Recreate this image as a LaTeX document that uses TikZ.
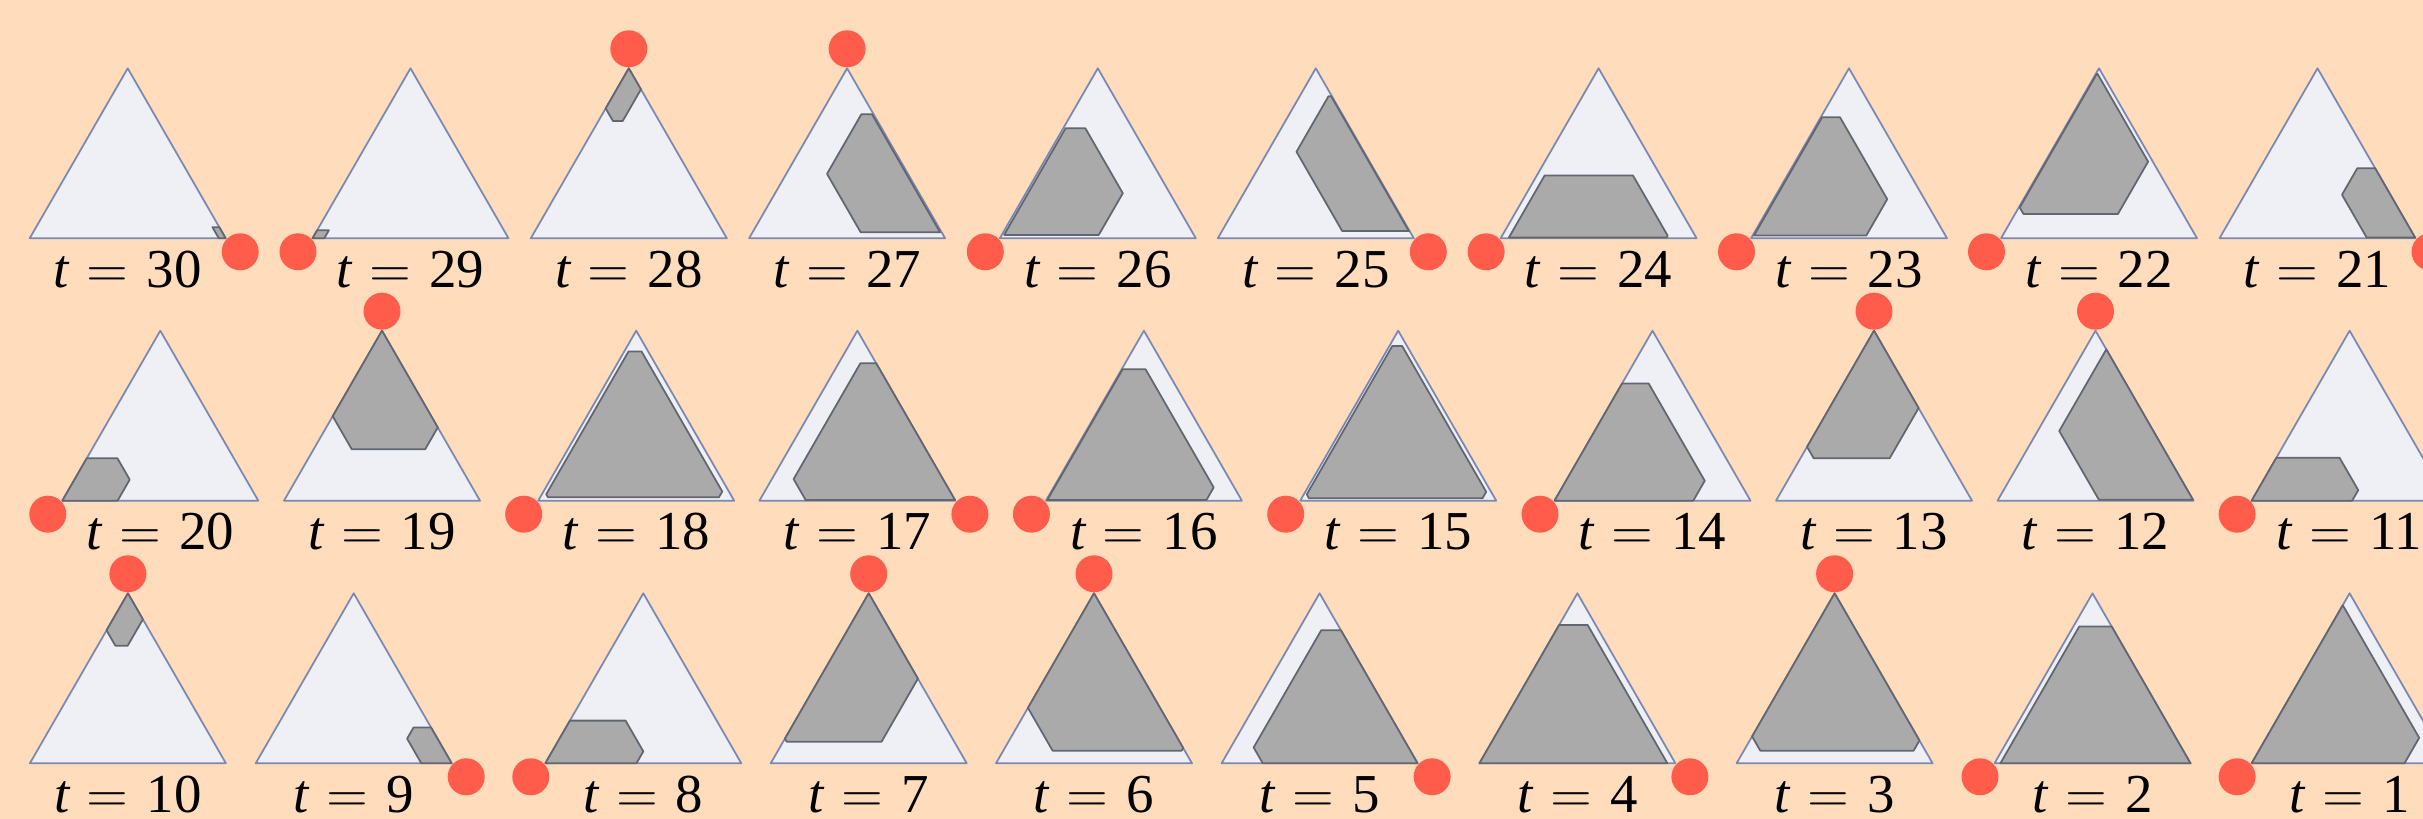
\documentclass[tikz,border=0pt]{standalone}
\usepackage{fix-cm}
\usepackage{fontspec}
\setmainfont{Liberation Serif}

\definecolor{peach}{RGB}{255,221,188}
\definecolor{trifill}{RGB}{238,240,246}
\definecolor{triedge}{RGB}{122,136,180}
\definecolor{regfill}{RGB}{170,170,171}
\definecolor{regedge}{RGB}{98,102,112}
\definecolor{dotred}{RGB}{255,92,76}

\tikzset{
    simplex/.style={fill=trifill,draw=triedge,line width=0.5pt},
    region/.style={fill=regfill,draw=regedge,line width=0.5pt},
    marker/.style={fill=dotred},
    steplabel/.style={font=\fontsize{15.6}{18}\selectfont,anchor=base,inner sep=0pt}
}

\newcommand{\steptext}[1]{\textit{t}\hspace{0.3em}$=$\hspace{0.33em}#1}

\begin{document}
\begin{tikzpicture}[x=0.01cm,y=-0.01cm,line cap=round,line join=round]

\fill[peach] (0,0) rectangle (2423,819);
\useasboundingbox (0,0) rectangle (2423,819);

% step / apex x / base y / marked corner / bounds of a, l, r
\foreach \tm/\cx/\by/\dv/\alo/\ahi/\llo/\lhi/\rlo/\rhi in {
    30/127.7/238.3/R/0/0.065/0/0.035/0.9/1,
    29/410.5/238.3/L/0/0.047/0.89/1/0/0.06,
    28/628.8/238.3/A/0.69/1/0/0.236/0/0.124,
    27/847.1/238.3/A/0.035/0.729/0.008/0.413/0.208/1,
    26/1097.8/238.3/L/0.02/0.647/0.24/1/0.012/0.495,
    25/1315.8/238.3/R/0.043/0.835/0.004/0.344/0.147/1,
    24/1598.6/238.3/L/0.005/0.369/0.14/1/0.04/0.845,
    23/1849/238.3/L/0.016/0.712/0.19/1/0.007/0.58,
    22/2099/238.3/L/0.143/0.967/0.024/0.814/0.005/0.525,
    21/2317.5/238.3/R/0.004/0.412/0/0.247/0.497/1,
    20/160.3/500.7/L/0/0.249/0.594/1/0/0.282,
    19/382/500.7/A/0.302/1/0/0.503/0/0.569,
    18/636.2/500.7/L/0.02/0.878/0.034/0.94/0.022/0.912,
    17/857.4/500.7/R/0.004/0.808/0/0.762/0.111/1,
    16/1143.9/500.7/L/0.004/0.773/0.105/1/0.005/0.817,
    15/1398.2/500.7/L/0.014/0.91/0.025/0.948/0.015/0.923,
    14/1652.5/500.7/L/0/0.69/0.175/1/0/0.708,
    13/1874/500.7/A/0.249/1/0/0.683/0/0.455,
    12/2095.5/500.7/A/0.005/1/0/0.48/0.11/1,
    11/2349.6/500.7/L/0/0.253/0.425/1/0/0.513,
    10/127.9/763.3/A/0.692/1/0/0.218/0/0.153,
    9/353.7/763.3/R/0/0.21/0/0.155/0.70/1,
    8/643.3/763.3/L/0/0.251/0.465/1/0/0.465,
    7/868.7/763.3/A/0.127/1/0/0.855/0/0.502,
    6/1094/763.3/A/0.0745/1/0/0.674/0/0.91,
    5/1319.6/763.3/R/0/0.782/0/0.79/0.117/1,
    4/1577.4/763.3/R/0/0.814/0.041/1/0/1,
    3/1834.6/763.3/A/0.0745/1/0/0.842/0/0.866,
    2/2092.5/763.3/L/0/0.804/0/1/0.03/1,
    1/2349.6/763.3/L/0/1/0.07/1/0/0.78} {
    \coordinate (A\tm) at (\cx,\by-170);
    \coordinate (L\tm) at (\cx-98,\by);
    \coordinate (R\tm) at (\cx+98,\by);
    \coordinate (dA\tm) at (\cx,\by-189.5);
    \coordinate (dL\tm) at (\cx-112.5,\by+13.5);
    \coordinate (dR\tm) at (\cx+112.5,\by+13.5);
    \draw[simplex] (A\tm) -- (L\tm) -- (R\tm) -- cycle;
    % tight bounds, then the six corners of the region
    \pgfmathsetmacro\aL{max(\alo,1-\lhi-\rhi)}
    \pgfmathsetmacro\aH{min(\ahi,1-\llo-\rlo)}
    \pgfmathsetmacro\lL{max(\llo,1-\ahi-\rhi)}
    \pgfmathsetmacro\lH{min(\lhi,1-\alo-\rlo)}
    \pgfmathsetmacro\rL{max(\rlo,1-\ahi-\lhi)}
    \pgfmathsetmacro\rH{min(\rhi,1-\alo-\llo)}
    \draw[region] ({\cx+98*(1-\aH-2*\lL)},{\by-170*\aH})
        -- ({\cx+98*(2*\rL+\aH-1)},{\by-170*\aH})
        -- ({\cx+98*(\rL-\lH)},{\by-170*(1-\lH-\rL)})
        -- ({\cx+98*(1-\aL-2*\lH)},{\by-170*\aL})
        -- ({\cx+98*(2*\rH+\aL-1)},{\by-170*\aL})
        -- ({\cx+98*(\rH-\lL)},{\by-170*(1-\lL-\rH)}) -- cycle;
    \fill[marker] (d\dv\tm) circle[radius=18.5];
    \node[steplabel] (lbl\tm) at (\cx,\by+49) {\steptext{\tm}};
}

\end{tikzpicture}
\end{document}
